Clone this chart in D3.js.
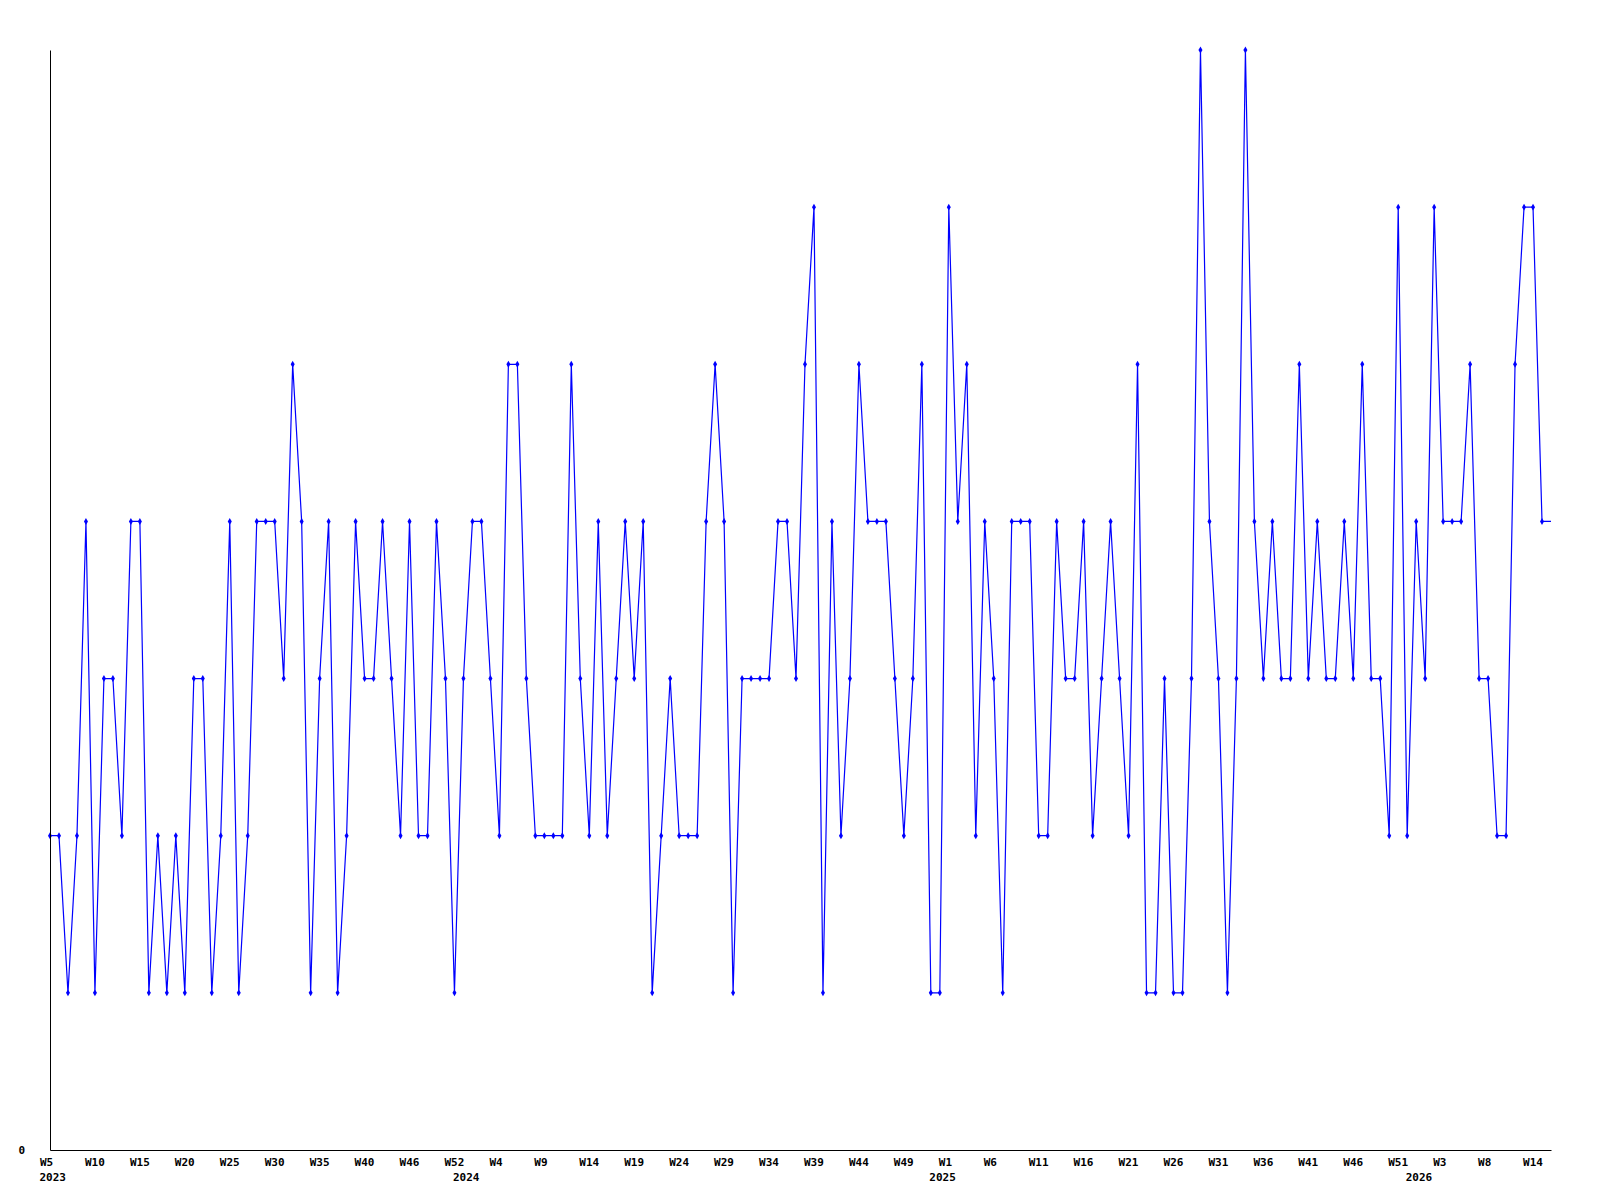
<html>
<head>
<script src="https://d3js.org/d3.v7.min.js"></script>
<style>
  body { margin: 0; background: #fff; }
  text { font-family: "DejaVu Sans Mono", monospace; font-weight: bold; font-size: 11px; }
</style>
<script type="text/javascript">

// weekly values, first point is W5 2023
var values = [
  2,2,1,2,4,1,3,3,2,4,
  4,1,2,1,2,1,3,3,1,2,
  4,1,2,4,4,4,3,5,4,1,
  3,4,1,2,4,3,3,4,3,2,
  4,2,2,4,3,1,3,4,4,3,
  2,5,5,3,2,2,2,2,5,3,
  2,4,2,3,4,3,4,1,2,3,
  2,2,2,4,5,4,1,3,3,3,
  3,4,4,3,5,6,1,4,2,3,
  5,4,4,4,3,2,3,5,1,1,
  6,4,5,2,4,3,1,4,4,4,
  2,2,4,3,3,4,2,3,4,3,
  2,5,1,1,3,1,1,3,7,4,
  3,1,3,7,4,3,4,3,3,5,
  3,4,3,3,4,3,5,3,3,2,
  6,2,4,3,6,4,4,4,5,3,
  3,2,2,5,6,6,4
];

// week labels, one for every 5th point
var weekLabels = ["W5","W10","W15","W20","W25","W30","W35","W40","W46","W52",
  "W4","W9","W14","W19","W24","W29","W34","W39","W44","W49",
  "W1","W6","W11","W16","W21","W26","W31","W36","W41","W46","W51",
  "W3","W8","W14"];

// first point of each year
var yearIndex = [0, 46, 99, 152];
var yearNames = ["2023", "2024", "2025", "2026"];

window.onload = function() {
  var svg = d3.select("body").append("svg").attr("width", 1600).attr("height", 1200);

  var left = 50, right = 1551, top = 50, bottom = 1150;

  var x = d3.scaleLinear().domain([0, values.length]).range([left, right]);
  var y = d3.scaleLinear().domain([0, 7]).range([bottom, top]);

  // line runs on to the right edge at the last value
  var pts = values.map(function(v, i) { return [i, v]; });
  pts.push([values.length, values[values.length - 1]]);

  var line = d3.line()
    .x(function(d) { return x(d[0]); })
    .y(function(d) { return y(d[1]); });

  svg.append("path")
    .datum(pts)
    .attr("d", line)
    .attr("fill", "none")
    .attr("stroke", "#0000ff")
    .attr("stroke-width", 1.2);

  svg.selectAll(".pt")
    .data(values)
    .enter().append("path")
    .attr("class", "pt")
    .attr("transform", function(d, i) { return "translate(" + x(i) + "," + y(d) + ")"; })
    .attr("d", d3.symbol().type(d3.symbolDiamond).size(14))
    .attr("fill", "#0000ff");

  // x axis
  var xAxis = svg.append("g")
    .attr("transform", "translate(0," + bottom + ")")
    .call(d3.axisBottom(x)
      .tickValues(d3.range(0, values.length, 5))
      .tickFormat(function(d, i) { return weekLabels[i]; })
      .tickSize(0)
      .tickPadding(8)
      .tickSizeOuter(0));
  xAxis.select(".domain").attr("stroke", "#000");
  xAxis.selectAll("text")
    .attr("text-anchor", "start")
    .attr("dx", -10.5)
    .attr("fill", "#000");

  svg.selectAll(".year")
    .data(yearIndex)
    .enter().append("text")
    .attr("class", "year")
    .attr("x", function(d) { return x(d) - 10.5; })
    .attr("y", 1181)
    .text(function(d, i) { return yearNames[i]; });

  // y axis, only 0 shown
  var yAxis = svg.append("g")
    .attr("transform", "translate(" + left + ",0)")
    .call(d3.axisLeft(y).tickValues([0]).tickFormat(d3.format("d"))
      .tickSize(0).tickPadding(25).tickSizeOuter(0));
  yAxis.select(".domain").attr("stroke", "#000");
  yAxis.selectAll("text").attr("fill", "#000");
};

</script>
</head>
<body>
</body>
</html>
